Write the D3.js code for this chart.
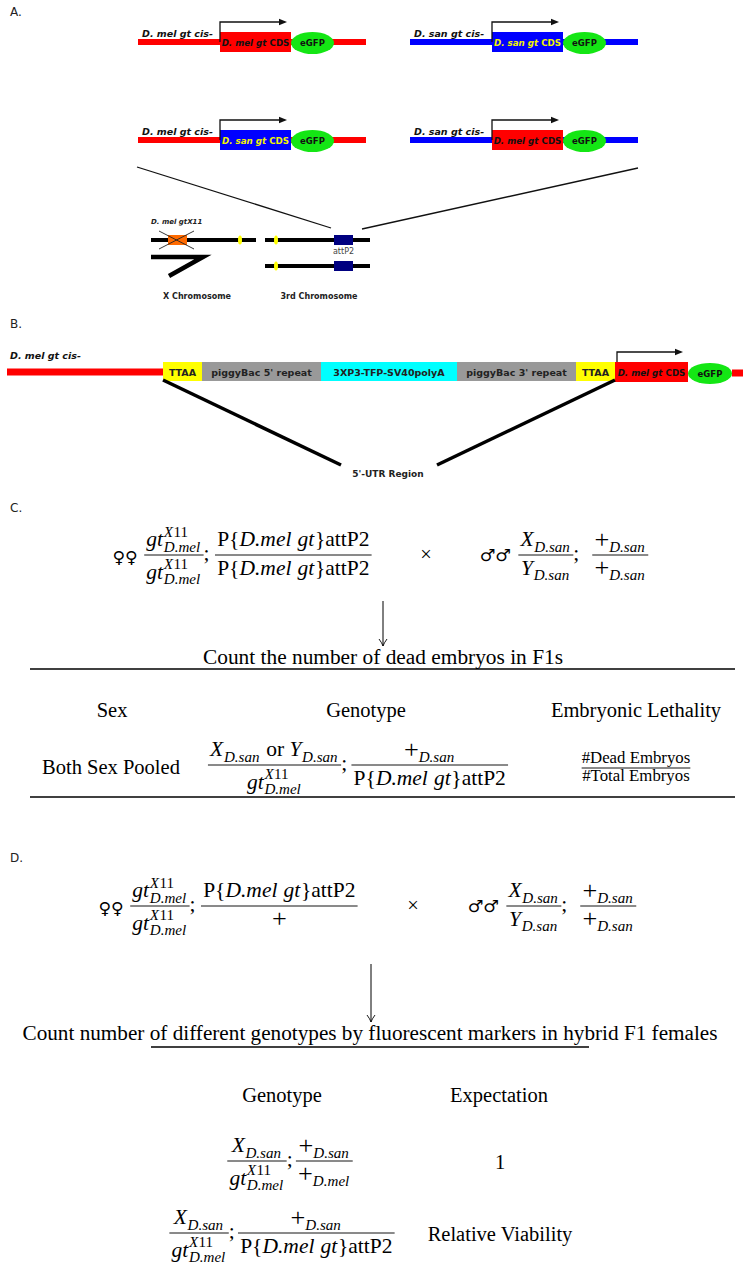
<!DOCTYPE html>
<html><head><meta charset="utf-8">
<script src="https://cdn.jsdelivr.net/npm/d3@7"></script>
<style>body{margin:0;background:#fff} text{white-space:pre}</style>
</head><body><svg id="c" width="743" height="1266"></svg>
<script>
// ---------------- data ----------------
const panelLabels = ['A.', 'B.', 'C.', 'D.'];
const cisSpecies = ['mel', 'san', 'mel', 'san'];
const cdsSpecies = ['mel', 'san', 'san', 'mel'];
const constructParts = ['cis', 'CDS', 'eGFP', 'tail'];
const constructPartLengths = [82, 71, 43, 32];
const speciesName = {mel: 'D. mel', san: 'D. san'};
const chromosomeLabels = ['X Chromosome', '3rd Chromosome'];
const alleleLabels = ['D. mel gtX11', 'attP2'];
const panelBParts = ['cis', 'insert', 'CDS', 'eGFP', 'tail'];
const panelBPartLengths = [156, 452, 73, 44, 11];
const insertParts = ['TTAA', "piggyBac 5' repeat", '3XP3-TFP-SV40polyA', "piggyBac 3' repeat", 'TTAA'];
const insertPartLengths = [39, 119, 136, 119, 39];
const utrLabel = "5'-UTR Region";

// math tokens
const I = t => ({t, i: true}), R = t => ({t}), SP = e => ({sp: e});
const PL = {t: '+', big: true};
const gtX11 = [I('gt'), {sup: [I('X'), R('11')], sub: [I('D.mel')]}];
const pMelGt = [R('P{'), I('D.mel'), SP(0.25), I('gt'), R('}attP2')];
const plus = [PL];
const xSan = [I('X'), {sub: [I('D.san')]}];
const ySan = [I('Y'), {sub: [I('D.san')]}];
const plusSan = [PL, {sub: [I('D.san')]}];
const plusMel = [PL, {sub: [I('D.mel')]}];
const xOrY = [...xSan, SP(0.25), R('or'), SP(0.25), ...ySan];

const femaleChrX = [gtX11, gtX11];
const femaleChr3C = [pMelGt, pMelGt];
const femaleChr3D = [pMelGt, plus];
const maleChrX = [xSan, ySan];
const maleChr3 = [plusSan, plusSan];
const arrowCaptions = ['Count the number of dead embryos in F1s',
  'Count number of different genotypes by fluorescent markers in hybrid F1 females'];
const tableCHeaders = ['Sex', 'Genotype', 'Embryonic Lethality'];
const tableCSex = ['Both Sex Pooled'];
const tableCGenotype = [[xOrY, gtX11], [plusSan, pMelGt]];
const tableCLethality = ['#Dead Embryos', '#Total Embryos'];
const tableDHeaders = ['Genotype', 'Expectation'];
const tableDGenotypes = [[[xSan, gtX11], [plusSan, plusMel]], [[xSan, gtX11], [plusSan, pMelGt]]];
const tableDExpectations = ['1', 'Relative Viability'];

// ---------------- style ----------------
const svg = d3.select('#c');
const SANS = "'DejaVu Sans', Verdana, sans-serif";
const SERIF = "'Liberation Serif', 'Times New Roman', serif";
const SYM = "'DejaVu Sans', sans-serif";
const M = 20.5, SX = 1.05;
const speciesColor = {mel: '#ff0000', san: '#0000ff'};
const cdsTextColor = {mel: '#111', san: '#f2f200'};
const GREEN = '#14e614';
const insertColors = ['#ffff00', '#999999', '#00ffff', '#999999', '#ffff00'];

// panel labels
const labelPos = [[10, 16], [10, 328], [10, 512], [10, 862]];
svg.selectAll('text.pl').data(panelLabels).join('text').attr('class', 'pl')
  .attr('x', (d, i) => labelPos[i][0]).attr('y', (d, i) => labelPos[i][1])
  .attr('font-family', SANS).attr('font-size', 12).attr('fill', '#222').text(d => d);

function cdsText(g, x, y, sp) {
  const t = g.append('text').attr('x', x).attr('y', y).attr('text-anchor', 'middle')
    .attr('font-family', SANS).attr('font-weight', 'bold').attr('font-size', 8.7).attr('fill', cdsTextColor[sp]);
  t.append('tspan').attr('font-style', 'italic').text(speciesName[sp] + ' gt');
  t.append('tspan').text(' CDS');
}
function tssArrow(g, x, y0, y1, x1) {
  g.append('path').attr('d', `M${x},${y0} V${y1} H${x1}`).attr('fill', 'none').attr('stroke', '#111').attr('stroke-width', 1.3);
  g.append('path').attr('d', `M${x1 - 1},${y1 - 3.2} L${x1 + 7},${y1} L${x1 - 1},${y1 + 3.2}Z`).attr('fill', '#111');
}
function egfp(g, cx, cy, rx, ry) {
  g.append('ellipse').attr('cx', cx).attr('cy', cy).attr('rx', rx).attr('ry', ry).attr('fill', GREEN);
  g.append('text').attr('x', cx).attr('y', cy + 3).attr('text-anchor', 'middle').attr('font-family', SANS)
    .attr('font-weight', 'bold').attr('font-size', 8.5).attr('fill', '#111').text('eGFP');
}

// ---------------- Panel A ----------------
const xA = d3.scaleLinear().domain([0, d3.sum(constructPartLengths)]).range([0, 228]);
const partStart = d3.cumsum([0, ...constructPartLengths]);
const origins = [[138, 42], [410, 42], [138, 140], [410, 140]];
cisSpecies.forEach((sp, i) => {
  const [ox, oy] = origins[i];
  const cs = cdsSpecies[i];
  const g = svg.append('g').attr('transform', `translate(${ox},${oy})`);
  g.append('rect').attr('x', xA(0)).attr('y', -3).attr('width', xA(partStart[4])).attr('height', 6).attr('fill', speciesColor[sp]);
  g.append('rect').attr('x', xA(partStart[1])).attr('y', -10).attr('width', xA(constructPartLengths[1])).attr('height', 20).attr('fill', speciesColor[cs]);
  egfp(g, xA(partStart[2] + constructPartLengths[2] / 2), 1, xA(constructPartLengths[2]) / 2, 11);
  cdsText(g, xA(partStart[1] + constructPartLengths[1] / 2), 3.5, cs);
  g.append('text').attr('x', 4).attr('y', -5).attr('font-family', SANS).attr('font-weight', 'bold')
    .attr('font-style', 'italic').attr('font-size', 9.5).attr('fill', '#111').text(speciesName[sp] + ' gt cis-');
  tssArrow(g, xA(partStart[1]), 0, -20, xA(partStart[1]) + 60);
});
// fan lines
svg.append('line').attr('x1', 137).attr('y1', 167).attr('x2', 331).attr('y2', 228).attr('stroke', '#111').attr('stroke-width', 1.3);
svg.append('line').attr('x1', 638).attr('y1', 168).attr('x2', 362).attr('y2', 229).attr('stroke', '#111').attr('stroke-width', 1.3);

// chromosomes
const chr = svg.append('g');
chr.append('line').attr('x1', 151).attr('x2', 256).attr('y1', 240).attr('y2', 240).attr('stroke', '#000').attr('stroke-width', 4);
chr.append('rect').attr('x', 168).attr('y', 235).attr('width', 19).attr('height', 10).attr('fill', '#ff6a00');
chr.append('line').attr('x1', 159).attr('y1', 231).attr('x2', 194).attr('y2', 249).attr('stroke', '#222').attr('stroke-width', 0.9);
chr.append('line').attr('x1', 159).attr('y1', 249).attr('x2', 194).attr('y2', 231).attr('stroke', '#222').attr('stroke-width', 0.9);
chr.append('ellipse').attr('cx', 240).attr('cy', 240).attr('rx', 2).attr('ry', 4.5).attr('fill', '#ffff00');
chr.append('text').attr('x', 151).attr('y', 224).attr('font-family', SANS).attr('font-weight', 'bold').attr('font-style', 'italic')
  .attr('font-size', 7).attr('fill', '#222').text(alleleLabels[0]);
chr.append('path').attr('d', 'M151,257 H203 L169,276').attr('fill', 'none').attr('stroke', '#000').attr('stroke-width', 4.5);
[240, 266].forEach(y => {
  chr.append('line').attr('x1', 265).attr('x2', 370).attr('y1', y).attr('y2', y).attr('stroke', '#000').attr('stroke-width', 4);
  chr.append('ellipse').attr('cx', 276).attr('cy', y).attr('rx', 2).attr('ry', 4.5).attr('fill', '#ffff00');
  chr.append('rect').attr('x', 334).attr('y', y - 5).attr('width', 19).attr('height', 10).attr('fill', '#000080');
});
chr.append('text').attr('x', 343.5).attr('y', 253.5).attr('text-anchor', 'middle').attr('font-family', SANS)
  .attr('font-size', 8).attr('fill', '#444').text(alleleLabels[1]);
chr.selectAll('text.cl').data(chromosomeLabels).join('text').attr('class', 'cl')
  .attr('x', (d, i) => [197, 319][i]).attr('y', 299).attr('text-anchor', 'middle').attr('font-family', SANS)
  .attr('font-weight', 'bold').attr('font-size', 8).attr('fill', '#222').text(d => d);

// ---------------- Panel B ----------------
const xB = d3.scaleLinear().domain([0, d3.sum(panelBPartLengths)]).range([7, 743]);
const bStart = d3.cumsum([0, ...panelBPartLengths]);
const gB = svg.append('g');
gB.append('rect').attr('x', xB(0)).attr('y', 368.5).attr('width', xB(bStart[1]) - xB(0)).attr('height', 7).attr('fill', speciesColor.mel);
gB.append('rect').attr('x', xB(bStart[4])).attr('y', 369.5).attr('width', xB(bStart[5]) - xB(bStart[4])).attr('height', 7).attr('fill', speciesColor.mel);
const iEdges = d3.cumsum([bStart[1], ...insertPartLengths]);
insertParts.forEach((p, i) => {
  const x0 = xB(iEdges[i]), x1 = xB(iEdges[i + 1]);
  gB.append('rect').attr('x', x0).attr('y', 362).attr('width', x1 - x0).attr('height', 19).attr('fill', insertColors[i]);
  gB.append('text').attr('x', (x0 + x1) / 2).attr('y', 375.5).attr('text-anchor', 'middle').attr('font-family', SANS)
    .attr('font-weight', 'bold').attr('font-size', 9.5).attr('fill', '#222').text(p);
});
gB.append('rect').attr('x', xB(bStart[2])).attr('y', 362).attr('width', xB(bStart[3]) - xB(bStart[2])).attr('height', 20).attr('fill', speciesColor.mel);
cdsText(gB, (xB(bStart[2]) + xB(bStart[3])) / 2, 375.5, 'mel');
egfp(gB, (xB(bStart[3]) + xB(bStart[4])) / 2, 373.5, (xB(bStart[4]) - xB(bStart[3])) / 2, 10.5);
tssArrow(gB, xB(bStart[2]) + 2, 362, 352, xB(bStart[2]) + 61);
gB.append('text').attr('x', 10).attr('y', 359).attr('font-family', SANS).attr('font-weight', 'bold')
  .attr('font-style', 'italic').attr('font-size', 9.5).attr('fill', '#111').text(speciesName.mel + ' gt cis-');
gB.append('line').attr('x1', xB(bStart[1])).attr('y1', 380).attr('x2', 341).attr('y2', 465).attr('stroke', '#000').attr('stroke-width', 3.5);
gB.append('line').attr('x1', xB(bStart[2])).attr('y1', 380).attr('x2', 437).attr('y2', 465).attr('stroke', '#000').attr('stroke-width', 3.5);
gB.append('text').attr('x', 388).attr('y', 477).attr('text-anchor', 'middle').attr('font-family', SANS)
  .attr('font-weight', 'bold').attr('font-size', 9).attr('fill', '#222').text(utrLabel);

// ---------------- math helpers ----------------
const hasSup = toks => Array.isArray(toks) && toks.some(t => t.sup);
function renderRow(g, toks, size) {
  let x = 0;
  toks.forEach(tk => {
    if (tk.sp != null) { x += tk.sp * size; return; }
    if (tk.t != null) {
      const fs = tk.big ? size * 1.22 : size;
      const t = g.append('text').attr('x', x).attr('y', tk.big ? size * 0.055 : 0).attr('font-size', fs).attr('font-family', SERIF)
        .attr('font-style', tk.i ? 'italic' : 'normal').text(tk.t);
      x += t.node().getComputedTextLength() + (tk.i ? size * 0.03 : 0);
      return;
    }
    let w = 0; const ss = size * 0.7;
    if (tk.sup) { const gg = g.append('g').attr('transform', `translate(${x},${-size * 0.47})`); w = Math.max(w, renderRow(gg, tk.sup, ss)); }
    if (tk.sub) { const dy = size * 0.26; const gg = g.append('g').attr('transform', `translate(${x},${dy})`); w = Math.max(w, renderRow(gg, tk.sub, ss)); }
    x += w + size * 0.04;
  });
  return x;
}
function renderFrac(g, num, den, size, o) {
  const gn = g.append('g'), gd = g.append('g');
  let wn, wd;
  if (typeof num === 'string') {
    const tn = gn.append('text').attr('font-family', SERIF).attr('font-size', size).text(num);
    const td = gd.append('text').attr('font-family', SERIF).attr('font-size', size).text(den);
    wn = tn.node().getComputedTextLength(); wd = td.node().getComputedTextLength();
  } else { wn = renderRow(gn, num, size); wd = renderRow(gd, den, size); }
  const w = Math.max(wn, wd) + (o.pad ?? 0.2) * size;
  const dn = o.dn ?? (hasSup(den) ? 1.15 : 0.98);
  gn.attr('transform', `translate(${(w - wn) / 2},${-(o.nu ?? 0.42) * size})`);
  gd.attr('transform', `translate(${(w - wd) / 2},${dn * size})`);
  g.append('line').attr('x1', 0).attr('x2', w).attr('stroke', '#000').attr('stroke-width', 0.9);
  return w;
}
function flowRow(items, cx, barY, sx = SX) {
  const g = svg.append('g');
  let x = 0;
  items.forEach(it => {
    if (it.sp != null) { x += it.sp * M; return; }
    const gi = g.append('g').attr('transform', `translate(${x},0)`);
    if (it.frac) x += renderFrac(gi, it.frac[0], it.frac[1], it.size || M, it.o || {});
    else {
      const t = gi.append('text').attr('y', it.dy ?? 0.25 * M).attr('font-family', it.font || SERIF)
        .attr('font-size', it.size || M).text(it.txt);
      x += t.node().getComputedTextLength();
    }
  });
  g.attr('transform', `translate(${cx - x * sx / 2},${barY}) scale(${sx},1)`);
  return x * sx;
}
function serifText(str, x, y, anchor = 'middle', len) {
  const t = svg.append('text').attr('x', x).attr('y', y).attr('text-anchor', anchor)
    .attr('font-family', SERIF).attr('font-size', M).attr('fill', '#000').text(str);
  if (len) t.attr('textLength', len).attr('lengthAdjust', 'spacingAndGlyphs');
  return t;
}
function downArrow(x, y1, y2) {
  svg.append('line').attr('x1', x).attr('x2', x).attr('y1', y1).attr('y2', y2).attr('stroke', '#000').attr('stroke-width', 1);
  svg.append('path').attr('d', `M${x - 4},${y2 - 7} Q${x - 1},${y2 - 3} ${x},${y2} M${x + 4},${y2 - 7} Q${x + 1},${y2 - 3} ${x},${y2}`)
    .attr('fill', 'none').attr('stroke', '#000').attr('stroke-width', 0.9);
}
const females = {txt: '\u2640\u2640', font: SYM, size: 16.5, dy: 8};
const males = {txt: '\u2642\u2642', font: SYM, size: 16.5, dy: 6};

// ---------------- Panel C ----------------
flowRow([females, SP(0.3), {frac: femaleChrX}, {txt: ';'}, SP(0.25), {frac: femaleChr3C}], 242, 555);
flowRow([{txt: '\u00d7', dy: 6}], 426, 555, 1);
flowRow([males, SP(0.35), {frac: maleChrX}, {txt: ';'}, SP(0.6), {frac: maleChr3}], 564, 555);
downArrow(383, 601, 646);
serifText(arrowCaptions[0], 383, 664, 'middle', 360);
svg.append('line').attr('x1', 30).attr('x2', 735).attr('y1', 669).attr('y2', 669).attr('stroke', '#000').attr('stroke-width', 1.6);
tableCHeaders.forEach((h, i) => serifText(h, [112, 366, 636][i], 717));
serifText(tableCSex[0], 111, 774);
flowRow([{frac: tableCGenotype[0]}, {txt: ';'}, SP(0.2), {frac: tableCGenotype[1]}], 358, 765);
flowRow([{frac: tableCLethality, size: 16, o: {nu: 0.34, dn: 0.8, pad: 0}}], 636, 768, 1.05);
svg.append('line').attr('x1', 30).attr('x2', 735).attr('y1', 797).attr('y2', 797).attr('stroke', '#000').attr('stroke-width', 1.6);

// ---------------- Panel D ----------------
flowRow([females, SP(0.3), {frac: femaleChrX}, {txt: ';'}, SP(0.25), {frac: femaleChr3D}], 228, 906);
flowRow([{txt: '\u00d7', dy: 6}], 413, 906, 1);
flowRow([males, SP(0.35), {frac: maleChrX}, {txt: ';'}, SP(0.6), {frac: maleChr3}], 552, 906);
downArrow(371, 964, 1022);
serifText(arrowCaptions[1], 370, 1040, 'middle', 695);
svg.append('line').attr('x1', 151).attr('x2', 589).attr('y1', 1047).attr('y2', 1047).attr('stroke', '#000').attr('stroke-width', 1.3);
tableDHeaders.forEach((h, i) => serifText(h, [282, 499][i], 1102));
const rowBars = [1161, 1233], rowCenters = [290, 282];
tableDGenotypes.forEach((r, i) => {
  flowRow([{frac: r[0]}, {txt: ';'}, SP(0.15), {frac: r[1]}], rowCenters[i], rowBars[i]);
  serifText(tableDExpectations[i], 500, rowBars[i] + 8);
});
</script></body></html>
